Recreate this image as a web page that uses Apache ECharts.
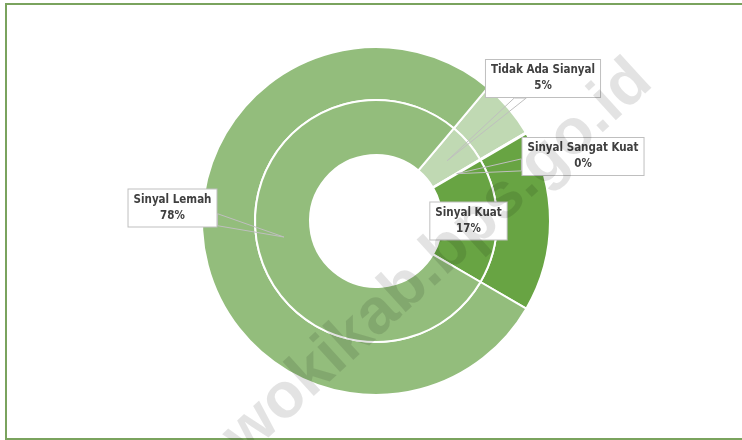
<!DOCTYPE html>
<html><head><meta charset="utf-8">
<script src="https://cdn.jsdelivr.net/npm/echarts@6/dist/echarts.min.js"></script>
<style>html,body{margin:0;padding:0;background:#fff}#c{width:742px;height:440px}</style>
</head><body><div id="c"></div>
<script>
// ---- data ----
const categories = ['Tidak Ada Sianyal', 'Sinyal Sangat Kuat', 'Sinyal Kuat', 'Sinyal Lemah'];
const values = [5.4, 0.1, 16.8, 77.7];
const watermarkText = 'wokikab.bps.go.id';

// ---- style / layout ----
const colors = ['#c0d9b3', '#4e7f33', '#68a443', '#93bd7c'];
const CX = 376, CY = 221;
const INNER = [66, 121], OUTER = [121, 174];
const START_CW_FROM_TOP = 40; // degrees
const labelPos = [[543, 78.5], [583, 156.5], [468.5, 221], [172.5, 208]];
const FONT = "'Liberation Sans Narrow', 'DejaVu Sans Condensed', 'Liberation Sans', sans-serif";

const total = values.reduce((a, b) => a + b, 0);
const data = categories.map((n, i) => ({ name: n, value: values[i], itemStyle: { color: colors[i] } }));
const labelData = categories.map((n, i) => ({ name: n, value: values[i] }));

function midAngle(i) {
  let before = 0;
  for (let k = 0; k < i; k++) before += values[k];
  return (START_CW_FROM_TOP + (before + values[i] / 2) / total * 360) * Math.PI / 180;
}

const chart = echarts.init(document.getElementById('c'), null, { renderer: 'canvas' });
chart.setOption({
  backgroundColor: '#fff',
  animation: false,
  graphic: [
    { type: 'rect', z: 0, shape: { x: 6, y: 4, width: 745, height: 435 },
      style: { fill: 'none', stroke: '#7aa35e', lineWidth: 2 }, silent: true },
    { type: 'text', z: 100, x: 233, y: 446, rotation: 0.74, silent: true,
      style: { text: watermarkText, fill: 'rgba(0,0,0,0.11)', font: "bold 64px 'Liberation Sans', Arial, sans-serif",
        align: 'left', verticalAlign: 'middle', textAlign: 'left', textVerticalAlign: 'middle' } }
  ],
  series: [
    {
      type: 'pie', z: 2, center: [CX, CY], radius: OUTER, startAngle: 90 - START_CW_FROM_TOP,
      clockwise: true, avoidLabelOverlap: false, silent: true,
      itemStyle: { borderColor: '#fff', borderWidth: 2 },
      label: { show: false }, labelLine: { show: false },
      data: data
    },
    {
      type: 'pie', z: 2, center: [CX, CY], radius: INNER, startAngle: 90 - START_CW_FROM_TOP,
      clockwise: true, avoidLabelOverlap: false, silent: true,
      itemStyle: { borderColor: '#fff', borderWidth: 2 },
      label: { show: false }, labelLine: { show: false },
      data: data
    },
    {
      type: 'pie', z: 5, center: [CX, CY], radius: INNER, startAngle: 90 - START_CW_FROM_TOP,
      clockwise: true, avoidLabelOverlap: false, silent: true,
      itemStyle: { color: 'rgba(0,0,0,0)', borderWidth: 0 },
      label: {
        show: true, position: 'outside',
        formatter: p => p.name + '\n' + Math.round(p.value / total * 100) + '%',
        fontFamily: FONT, fontSize: 11.5, fontWeight: 'bold', color: '#404040', lineHeight: 16,
        backgroundColor: '#fff', borderColor: '#bfbfbf', borderWidth: 1, padding: [3, 5, 2, 5], align: 'center'
      },
      labelLine: { show: true, lineStyle: { color: '#bfbfbf', width: 1 } },
      labelLayout: function (params) {
        const i = params.dataIndex;
        const a = midAngle(i);
        const rm = (INNER[0] + INNER[1]) / 2;
        const T = [CX + rm * Math.sin(a), CY - rm * Math.cos(a)];
        const L = labelPos[i];
        const w = params.labelRect.width, h = params.labelRect.height;
        const d = [T[0] - L[0], T[1] - L[1]];
        const sx = Math.abs(d[0]) > 1e-6 ? (w / 2) / Math.abs(d[0]) : Infinity;
        const sy = Math.abs(d[1]) > 1e-6 ? (h / 2) / Math.abs(d[1]) : Infinity;
        const s = Math.min(sx, sy);
        let pts;
        if (s >= 1) {
          pts = [T, T];
        } else {
          const E = [L[0] + s * d[0], L[1] + s * d[1]];
          const half = 6;
          let E1, E2;
          if (sx < sy) {
            E1 = [E[0], Math.max(L[1] - h / 2, E[1] - half)];
            E2 = [E[0], Math.min(L[1] + h / 2, E[1] + half)];
          } else {
            E1 = [Math.max(L[0] - w / 2, E[0] - half), E[1]];
            E2 = [Math.min(L[0] + w / 2, E[0] + half), E[1]];
          }
          pts = [T, E1, E2, T];
        }
        return { x: L[0], y: L[1], align: 'center', verticalAlign: 'middle', labelLinePoints: pts };
      },
      data: labelData
    }
  ]
});
</script>
</body></html>
